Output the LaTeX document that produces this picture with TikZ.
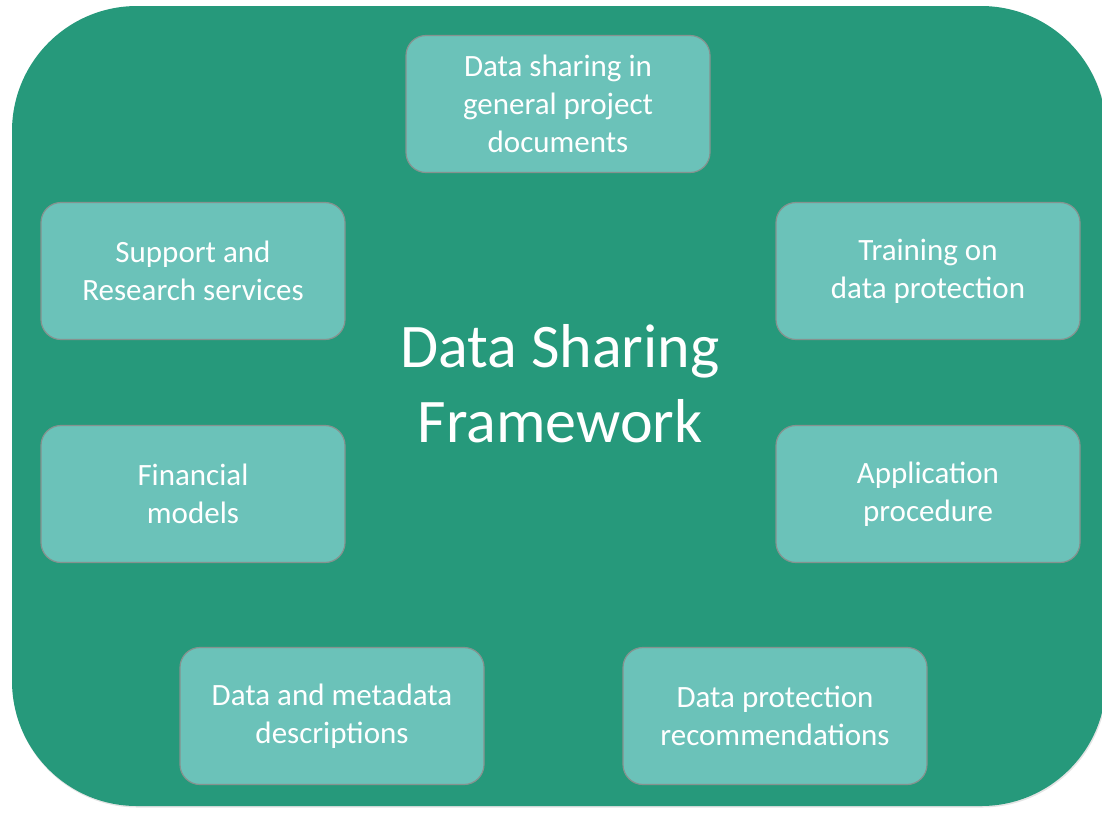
\documentclass[tikz,border=0pt]{standalone}
\usepackage{fontspec}
\setmainfont{Carlito}
\usetikzlibrary{positioning}
\definecolor{sfondo}{HTML}{26997B}
\definecolor{casellaFill}{HTML}{6BC2B9}
\definecolor{bordo}{HTML}{86928F}
\tikzset{
    casella/.style = {draw=bordo, line width=1.2pt, fill=casellaFill, rounded corners=20pt,
        minimum width=304pt, minimum height=137pt, align=center, text=white,
        font=\fontsize{31}{38}\selectfont},
    titolo/.style = {text=white, align=center, font=\fontsize{62}{75}\selectfont}
}

\begin{document}
\begin{tikzpicture}[x=1pt, y=-1pt]
    % parametri
    \pgfmathsetmacro{\raggio}{125}
    % Clip
    \useasboundingbox (0,0) rectangle (1102,812);
    \clip (0,0) rectangle (1102,812);
    % sfondo con ombra
    \fill[black!30, opacity=0.35, rounded corners=\raggio pt] (12.5,7.5) rectangle (1107,807.5);
    \fill[sfondo, rounded corners=\raggio pt] (12,6) rectangle (1106,806);
    % titolo
    \node[titolo] (framework) at (560,384) {Data Sharing\\Framework};
    % caselle
    \node[casella] (documenti) at (558,104) {Data sharing in\\general project\\documents};
    \node[casella] (supporto) at (193,271) {Support and\\Research services};
    \node[casella] (training) at (928,271) {Training on\\data protection};
    \node[casella] (finanza) at (193,494) {Financial\\models};
    \node[casella] (domanda) at (928,494) {Application\\procedure};
    \node[casella] (metadati) at (332,716) {Data and metadata\\descriptions};
    \node[casella] (protezione) at (775,716) {Data protection\\recommendations};
\end{tikzpicture}
\end{document}
